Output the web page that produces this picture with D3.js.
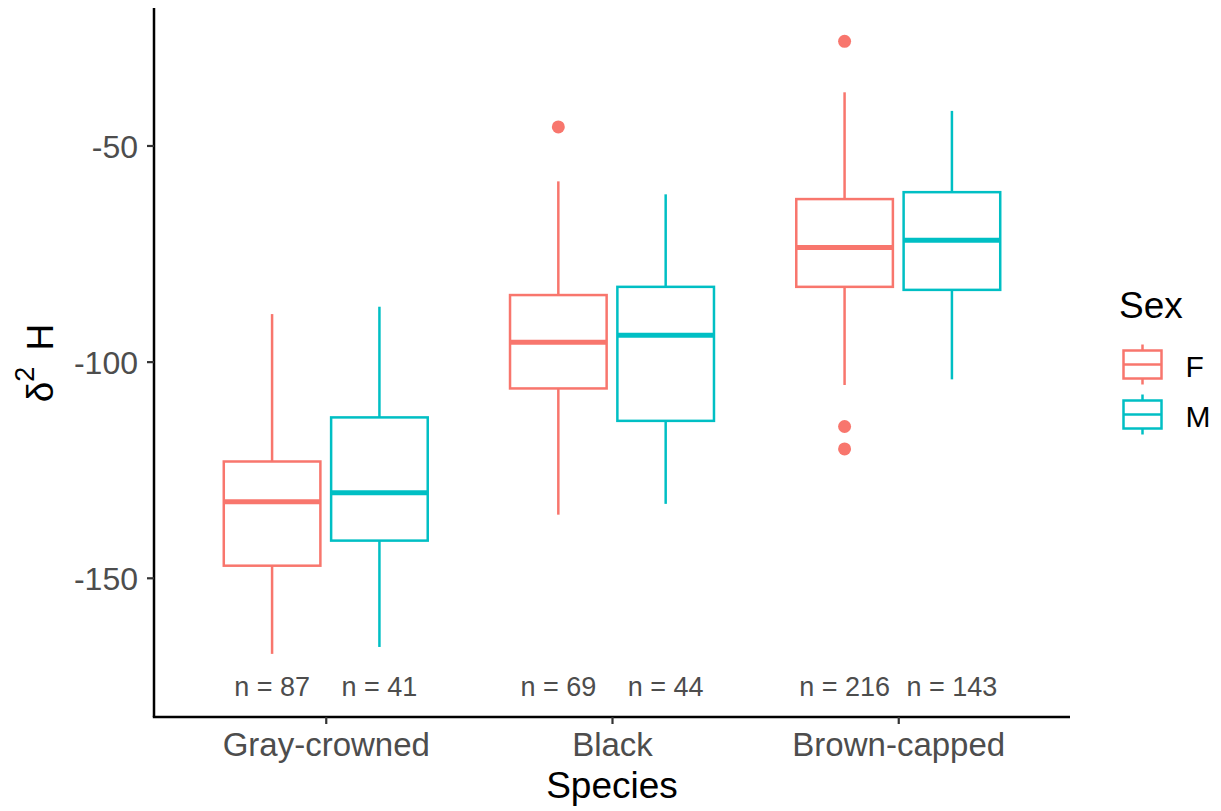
<!DOCTYPE html>
<html>
<head>
<meta charset="utf-8">
<script src="https://cdn.jsdelivr.net/npm/d3@7"></script>
<style>
  html, body { margin: 0; padding: 0; background: #ffffff; }
  svg { display: block; font-family: "Liberation Sans", Arial, Helvetica, sans-serif; }
</style>
</head>
<body>
<svg id="chart" width="1221" height="811"></svg>
<script>
// Categories and groups
const species = ["Gray-crowned", "Black", "Brown-capped"];
const sexes = ["F", "M"];
const sexColors = ["#F8766D", "#00BFC4"];

// Box statistics per species (δ²H, ‰)
const femaleLowWhisker  = [-167.6, -135.4, -105.4];
const femaleQ1          = [-147.2, -106.2,  -82.7];
const femaleMedian      = [-132.4,  -95.5,  -73.6];
const femaleQ3          = [-123.1,  -84.6,  -62.4];
const femaleHighWhisker = [ -89.0,  -58.3,  -37.7];

const maleLowWhisker  = [-166.0, -132.9, -104.1];
const maleQ1          = [-141.4, -113.7,  -83.4];
const maleMedian      = [-130.3,  -93.9,  -71.9];
const maleQ3          = [-112.9,  -82.7,  -60.8];
const maleHighWhisker = [ -87.3,  -61.3,  -42.0];

// Outlying observations
const femaleOutliers = [[], [-45.7], [-25.9, -115.0, -120.2]];
const maleOutliers   = [[], [], []];

// Sample sizes
const femaleCounts = [87, 69, 216];
const maleCounts   = [41, 44, 143];

// Y axis ticks
const yTicks = [-50, -100, -150];

// Assemble rows for drawing
const stats = [];
species.forEach((sp, i) => {
  stats.push({ species: sp, sex: "F", lo: femaleLowWhisker[i], q1: femaleQ1[i], med: femaleMedian[i],
               q3: femaleQ3[i], hi: femaleHighWhisker[i], out: femaleOutliers[i], n: femaleCounts[i] });
  stats.push({ species: sp, sex: "M", lo: maleLowWhisker[i], q1: maleQ1[i], med: maleMedian[i],
               q3: maleQ3[i], hi: maleHighWhisker[i], out: maleOutliers[i], n: maleCounts[i] });
});

const svg = d3.select("#chart");

const panel = { left: 154, right: 1070, top: 8, bottom: 717 };

const x = d3.scalePoint().domain(species).range([panel.left, panel.right]).padding(0.6);
const step = x.step();
const xSex = d3.scaleBand().domain(sexes).range([-step * 0.375, step * 0.375]).padding(0);
const boxW = xSex.bandwidth() * 0.9;

const y = d3.scaleLinear().domain([-182.2, -18.2]).range([panel.bottom, panel.top]);
const color = d3.scaleOrdinal().domain(sexes).range(sexColors);

const lineW = 2.5;

// Boxplots
const groups = svg.append("g").selectAll("g.box")
  .data(stats)
  .join("g")
  .attr("class", "box")
  .attr("transform", d => `translate(${x(d.species) + xSex(d.sex) + xSex.bandwidth() / 2},0)`);

groups.append("line")
  .attr("x1", 0).attr("x2", 0)
  .attr("y1", d => y(d.hi)).attr("y2", d => y(d.q3))
  .attr("stroke", d => color(d.sex)).attr("stroke-width", lineW);

groups.append("line")
  .attr("x1", 0).attr("x2", 0)
  .attr("y1", d => y(d.q1)).attr("y2", d => y(d.lo))
  .attr("stroke", d => color(d.sex)).attr("stroke-width", lineW);

groups.append("rect")
  .attr("x", -boxW / 2).attr("width", boxW)
  .attr("y", d => y(d.q3)).attr("height", d => y(d.q1) - y(d.q3))
  .attr("fill", "#ffffff")
  .attr("stroke", d => color(d.sex)).attr("stroke-width", lineW);

groups.append("line")
  .attr("x1", -boxW / 2).attr("x2", boxW / 2)
  .attr("y1", d => y(d.med)).attr("y2", d => y(d.med))
  .attr("stroke", d => color(d.sex)).attr("stroke-width", lineW * 2);

groups.selectAll("circle")
  .data(d => d.out.map(v => ({ v, sex: d.sex })))
  .join("circle")
  .attr("cx", 0).attr("cy", d => y(d.v)).attr("r", 6.5)
  .attr("fill", d => color(d.sex));

// Sample size labels
groups.append("text")
  .attr("x", 0).attr("y", 696)
  .attr("text-anchor", "middle")
  .attr("font-size", 27)
  .attr("fill", "#4D4D4D")
  .text(d => `n = ${d.n}`);

// Axes
const yAxis = d3.axisLeft(y).tickValues(yTicks).tickFormat(d => String(d)).tickSize(7).tickPadding(9);
const gy = svg.append("g").attr("transform", `translate(${panel.left},0)`).call(yAxis);
gy.select(".domain").attr("d", `M0,${panel.top}V${panel.bottom}`).attr("stroke", "#000").attr("stroke-width", 2.5);
gy.selectAll(".tick line").attr("stroke", "#333").attr("stroke-width", 2.2);
gy.selectAll(".tick text").attr("font-size", 32).attr("fill", "#4D4D4D")
  .attr("font-family", "Liberation Sans, Arial, sans-serif").attr("dy", "0.36em");

const xAxis = d3.axisBottom(x).tickSize(7).tickPadding(8);
const gx = svg.append("g").attr("transform", `translate(0,${panel.bottom})`).call(xAxis);
gx.select(".domain").attr("d", `M${panel.left - 1.2},0H${panel.right}`).attr("stroke", "#000").attr("stroke-width", 2.5);
gx.selectAll(".tick line").attr("stroke", "#333").attr("stroke-width", 2.2);
gx.selectAll(".tick text").attr("font-size", 33).attr("fill", "#4D4D4D")
  .attr("font-family", "Liberation Sans, Arial, sans-serif").attr("dy", "0.72em");

// Axis titles
svg.append("text")
  .attr("x", (panel.left + panel.right) / 2).attr("y", 798)
  .attr("text-anchor", "middle").attr("font-size", 37).attr("fill", "#000")
  .text("Species");

const yTitle = svg.append("text")
  .attr("transform", "translate(53,363) rotate(-90)")
  .attr("text-anchor", "middle").attr("font-size", 37).attr("fill", "#000");
yTitle.append("tspan").text("δ");
yTitle.append("tspan").attr("font-size", 27).attr("dy", -19).text("2");
yTitle.append("tspan").attr("dy", 19).attr("dx", 6).text(" H");

// Legend
const legend = svg.append("g");
legend.append("text")
  .attr("x", 1119).attr("y", 318)
  .attr("font-size", 37).attr("fill", "#000")
  .text("Sex");

const keys = legend.selectAll("g.key")
  .data(sexes)
  .join("g")
  .attr("class", "key")
  .attr("transform", (d, i) => `translate(1142.5,${364.5 + i * 50})`);

keys.append("line")
  .attr("x1", 0).attr("x2", 0).attr("y1", -20).attr("y2", 20)
  .attr("stroke", d => color(d)).attr("stroke-width", lineW);
keys.append("rect")
  .attr("x", -19).attr("y", -14).attr("width", 38).attr("height", 28)
  .attr("fill", "#ffffff")
  .attr("stroke", d => color(d)).attr("stroke-width", lineW);
keys.append("line")
  .attr("x1", -19).attr("x2", 19).attr("y1", 0).attr("y2", 0)
  .attr("stroke", d => color(d)).attr("stroke-width", lineW);
keys.append("text")
  .attr("x", 43).attr("y", 12)
  .attr("font-size", 30).attr("fill", "#000")
  .text(d => d);
</script>
</body>
</html>
